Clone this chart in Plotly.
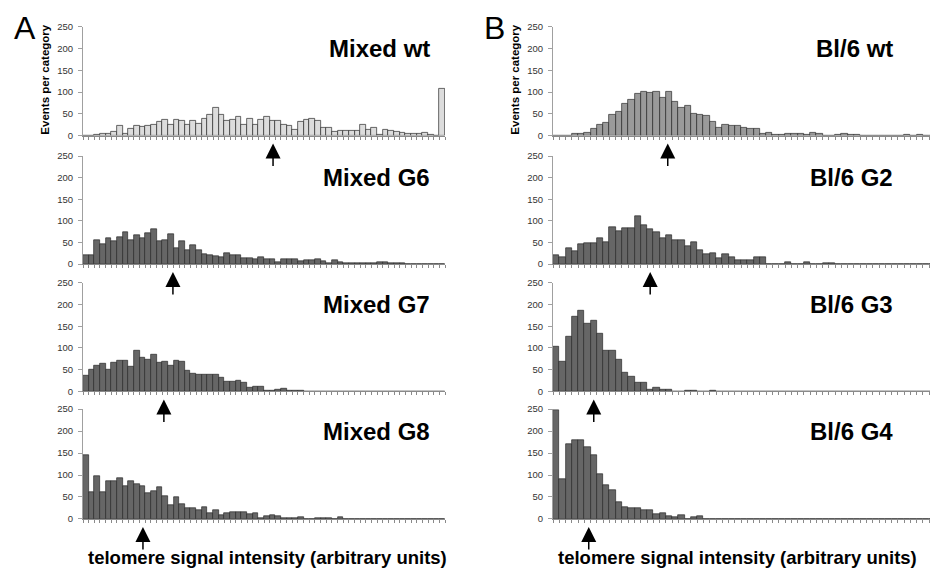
import plotly.graph_objects as go

PAGE_W, PAGE_H = 938, 571
OFF = 8                       # default page margin around the plot div
W, H = PAGE_W - OFF, PAGE_H - OFF

# ---------------- data ----------------
bins_A = list(range(64))   # intensity categories, panel A
bins_B = list(range(62))   # intensity categories, panel B

mixed_wt = [0, 0, 3, 4, 5, 9, 22, 4, 16, 23,
            20, 23, 25, 31, 37, 26, 37, 33, 26, 34,
            28, 39, 48, 65, 48, 35, 37, 43, 25, 39,
            26, 37, 43, 34, 34, 25, 23, 14, 32, 37,
            39, 34, 17, 17, 9, 11, 11, 11, 11, 25,
            14, 17, 3, 13, 10, 9, 6, 5, 4, 4,
            7, 2, 0, 107]
mixed_g6 = [21, 21, 56, 45, 60, 52, 63, 75, 55, 67,
            60, 72, 81, 53, 55, 70, 37, 52, 32, 43,
            32, 22, 21, 19, 17, 26, 20, 20, 14, 14,
            11, 15, 12, 11, 5, 12, 11, 11, 7, 8,
            10, 11, 7, 3, 8, 5, 2, 2, 3, 2,
            3, 2, 4, 5, 2, 2, 1, 0, 0, 0,
            0, 0, 0, 0]
mixed_g7 = [36, 50, 59, 63, 51, 66, 70, 70, 57, 93,
            78, 72, 85, 66, 69, 59, 70, 69, 47, 42,
            39, 38, 38, 38, 32, 23, 23, 26, 21, 9,
            11, 11, 2, 2, 4, 7, 2, 2, 2, 0,
            0, 0, 0, 0, 0, 0, 0, 0, 0, 0,
            0, 0, 0, 0, 0, 0, 0, 0, 0, 0,
            0, 0, 0, 0]
mixed_g8 = [146, 61, 98, 61, 87, 86, 93, 74, 85, 79,
            74, 58, 63, 72, 52, 31, 49, 34, 24, 24,
            21, 26, 13, 20, 9, 13, 15, 15, 16, 10,
            13, 1, 7, 8, 6, 2, 2, 2, 4, 0,
            0, 2, 2, 2, 0, 5, 0, 0, 0, 0,
            0, 0, 0, 0, 0, 0, 0, 0, 0, 0,
            0, 0, 0, 0]

bl6_wt = [0, 0, 0, 5, 5, 7, 15, 24, 30, 47,
          55, 72, 83, 95, 100, 98, 100, 87, 100, 77,
          63, 68, 51, 48, 45, 31, 19, 25, 22, 22,
          19, 16, 16, 5, 7, 3, 2, 4, 4, 4,
          2, 6, 4, 0, 0, 3, 4, 3, 3, 0,
          0, 0, 0, 0, 0, 0, 2, 0, 2, 0,
          0, 0]
bl6_g2 = [20, 15, 37, 30, 47, 49, 48, 60, 50, 85,
          77, 82, 82, 111, 90, 80, 75, 60, 68, 55,
          55, 41, 50, 33, 23, 25, 13, 22, 17, 10,
          8, 8, 15, 15, 0, 0, 0, 5, 0, 0,
          4, 0, 0, 2, 2, 0, 0, 0, 0, 0,
          0, 0, 0, 0, 0, 0, 0, 0, 0, 0,
          0, 4]
bl6_g3 = [102, 69, 125, 171, 185, 156, 162, 134, 94, 93,
          74, 44, 34, 20, 20, 5, 8, 5, 5, 0,
          0, 2, 2, 0, 0, 2, 0, 0, 0, 0,
          0, 0, 0, 0, 0, 0, 0, 0, 0, 0,
          0, 0, 0, 0, 0, 0, 0, 0, 0, 0,
          0, 0, 0, 0, 0, 0, 0, 0, 0, 0,
          0, 0]
bl6_g4 = [248, 91, 170, 179, 179, 163, 146, 102, 78, 65,
          39, 28, 24, 24, 19, 19, 12, 13, 6, 4,
          8, 0, 5, 6, 0, 0, 0, 0, 0, 0,
          0, 0, 0, 0, 0, 0, 0, 0, 0, 0,
          0, 0, 0, 0, 0, 0, 0, 0, 0, 0,
          0, 0, 0, 0, 0, 0, 0, 0, 0, 0,
          0, 0]

titles_A = ["Mixed wt", "Mixed G6", "Mixed G7", "Mixed G8"]
titles_B = ["Bl/6 wt", "Bl/6 G2", "Bl/6 G3", "Bl/6 G4"]
series_A = [mixed_wt, mixed_g6, mixed_g7, mixed_g8]
series_B = [bl6_wt, bl6_g2, bl6_g3, bl6_g4]
median_A = [33.1, 15.4, 13.8, 10.1]   # arrow positions (category units)
median_B = [17.8, 15.0, 6.0, 5.2]
y_ticks = [0, 50, 100, 150, 200, 250]
x_title = "telomere signal intensity (arbitrary units)"
y_title = "Events per category"

# ---------------- style ----------------
FONT = "Arial, Liberation Sans, Helvetica, sans-serif"
fill_A = ["#dcdcdc", "#666666", "#666666", "#666666"]
fill_B = ["#9a9a9a", "#666666", "#666666", "#666666"]

def px_x(p):
    return (p - OFF) / W

def px_y(p):
    return 1 - (p - OFF) / H

row_top = [21, 153, 282, 411]
row_bot = [132, 263, 393, 523]
col_left = [83, 553]
col_right = [445, 938]
col_range = [[-0.5, 63.5], [-0.5, 60.9]]

fig = go.Figure()
layout = {}
annotations = []

n = 0
for c, (series, fills, titles, medians, bins) in enumerate(
        [(series_A, fill_A, titles_A, median_A, bins_A),
         (series_B, fill_B, titles_B, median_B, bins_B)]):
    for r in range(4):
        n += 1
        xa = "x" if n == 1 else f"x{n}"
        ya = "y" if n == 1 else f"y{n}"
        fig.add_trace(go.Bar(
            x=bins, y=series[r], xaxis=xa, yaxis=ya,
            width=1.0,
            marker=dict(color=fills[r], line=dict(color="#2a2a2a", width=0.7)),
            showlegend=False, hoverinfo="x+y"))
        xkey = "xaxis" if n == 1 else f"xaxis{n}"
        ykey = "yaxis" if n == 1 else f"yaxis{n}"
        layout[xkey] = dict(
            domain=[px_x(col_left[c]), min(1.0, px_x(col_right[c]))],
            anchor=ya, range=col_range[c],
            showline=True, linecolor="#8a8a8a", linewidth=1,
            ticks="outside", ticklen=3, tickcolor="#8a8a8a", tickwidth=1,
            tickmode="linear", tick0=-0.5, dtick=1,
            showticklabels=False, showgrid=False, zeroline=False, fixedrange=True)
        layout[ykey] = dict(
            domain=[px_y(row_bot[r]), px_y(row_top[r])],
            anchor=xa, range=[0, 250],
            showline=True, linecolor="#a0a0a0", linewidth=1,
            ticks="outside", ticklen=4, tickcolor="#a0a0a0",
            tickvals=y_ticks, ticklabelstandoff=3,
            tickfont=dict(family=FONT, size=9.5, color="#333333"),
            showgrid=False, zeroline=False, fixedrange=True)
        # panel title
        annotations.append(dict(
            text=f"<b>{titles[r]}</b>", xref=f"{xa} domain", yref=f"{ya} domain",
            x=0.965 if c == 0 else 0.888, y=0.80, xanchor="right", yanchor="middle",
            showarrow=False, font=dict(family=FONT, size=24, color="#000")))
        # median arrow
        annotations.append(dict(
            text="", x=medians[r], y=0, xref=xa, yref=ya,
            showarrow=True, arrowhead=2, arrowsize=2, arrowwidth=1.5,
            arrowcolor="#000", ax=0, ay=24, yshift=-8, standoff=0))

# panel letters
for letter, xp in [("A", 12), ("B", 482)]:
    annotations.append(dict(
        text=letter, xref="paper", yref="paper", x=px_x(xp), y=px_y(22),
        xanchor="left", yanchor="middle", showarrow=False,
        font=dict(family=FONT, size=32, color="#000")))

# y-axis titles
for xp in [45, 515]:
    annotations.append(dict(
        text=f"<b>{y_title}</b>", xref="paper", yref="paper",
        x=px_x(xp), y=px_y(75), textangle=-90, xanchor="center", yanchor="middle",
        showarrow=False, font=dict(family=FONT, size=11.5, color="#000")))

# x-axis titles
for xp in [267, 737]:
    annotations.append(dict(
        text=f"<b>{x_title}</b>", xref="paper", yref="paper",
        x=px_x(xp), y=px_y(562), xanchor="center", yanchor="middle",
        showarrow=False, font=dict(family=FONT, size=18.5, color="#000")))

fig.update_layout(
    width=W, height=H, margin=dict(l=0, r=0, t=0, b=0),
    paper_bgcolor="white", plot_bgcolor="white",
    bargap=0, annotations=annotations, **layout)

fig.write_html("out.html", config={"displayModeBar": False})
